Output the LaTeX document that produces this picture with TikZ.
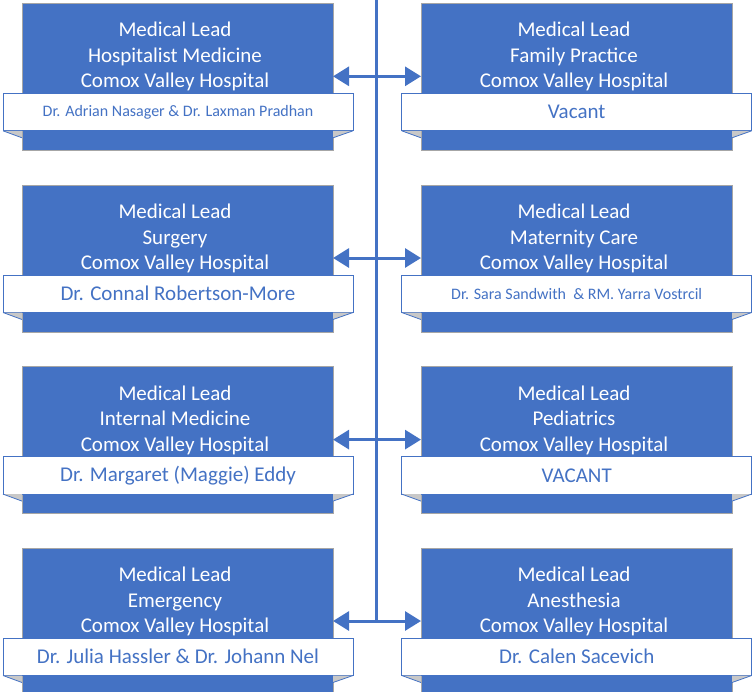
\documentclass[tikz,border=0pt]{standalone}
\usepackage{fontspec}
\setmainfont{Carlito}
\usetikzlibrary{calc,arrows.meta}
\definecolor{accent}{HTML}{4472C4}
\definecolor{foldgray}{HTML}{C8C8C8}
\definecolor{boxedge}{HTML}{A6A6A6}
\tikzset{
 bluebox/.style={draw=boxedge,line width=0.8pt,fill=accent,minimum width=311pt,minimum height=147pt,anchor=north west,inner sep=0pt,outer sep=0pt},
 titletext/.style={text=white,font=\fontsize{21}{25.5}\selectfont,align=center,inner sep=0pt},
 namebox/.style={draw=accent,line width=0.8pt,fill=white,minimum width=350pt,minimum height=37.5pt,anchor=north west,inner sep=0pt,outer sep=0pt,text=accent},
 foldfill/.style={fill=foldgray},
 foldline/.style={draw=accent,line width=0.8pt},
 spine/.style={draw=accent,line width=3pt},
 link/.style={draw=accent,line width=3pt,{Triangle[length=16pt,width=19pt]}-{Triangle[length=16pt,width=19pt]}},
}
\newcommand\leadrow[7]{%
 \node[bluebox] (#1) at (#2,#4) {};
 \node[namebox,font=\fontsize{#6}{#6}\selectfont] (#1n) at (#3,#4+90) {#7};
 \node[titletext] (#1t) at ($(#1.north)+(-2.5,53.5)$) {#5};
 \path[foldfill] (#1n.south west) -- (#1n.south west -| #1.west) -- ($(#1n.south west -| #1.west)+(0,7)$) -- cycle;
 \path[foldline] (#1n.south west) -- ($(#1n.south west -| #1.west)+(0,7)$);
 \path[foldfill] (#1n.south east) -- (#1n.south east -| #1.east) -- ($(#1n.south east -| #1.east)+(0,7)$) -- cycle;
 \path[foldline] (#1n.south east) -- ($(#1n.south east -| #1.east)+(0,7)$);
}
\begin{document}
\begin{tikzpicture}[x=1pt,y=-1pt]
\useasboundingbox (0,0) rectangle (752,691);
\leadrow{L1}{22}{3}{3.3}{Medical Lead\\Hospitalist Medicine\\Comox Valley Hospital}{16}{Dr. Adrian Nasager \& Dr. Laxman Pradhan}
\leadrow{R1}{421}{401.7}{3.3}{Medical Lead\\Family Practice\\Comox Valley Hospital}{21}{Vacant}
\leadrow{L2}{22}{3}{185}{Medical Lead\\Surgery\\Comox Valley Hospital}{21}{Dr. Connal Robertson-More}
\leadrow{R2}{421}{401.7}{185}{Medical Lead\\Maternity Care\\Comox Valley Hospital}{16}{Dr. Sara Sandwith\ \ \& RM. Yarra Vostrcil}
\leadrow{L3}{22}{3}{366.6}{Medical Lead\\Internal Medicine\\Comox Valley Hospital}{21}{Dr. Margaret (Maggie) Eddy}
\leadrow{R3}{421}{401.7}{366.6}{Medical Lead\\Pediatrics\\Comox Valley Hospital}{21}{VACANT}
\leadrow{L4}{22}{3}{548}{Medical Lead\\Emergency\\Comox Valley Hospital}{21}{Dr. Julia Hassler \& Dr. Johann Nel}
\leadrow{R4}{421}{401.7}{548}{Medical Lead\\Anesthesia\\Comox Valley Hospital}{21}{Dr. Calen Sacevich}
\coordinate (spinetop) at (376,0);
\coordinate (spinebot) at (376,621);
\draw[spine] (spinetop) -- (spinebot);
\foreach \r in {1,2,3,4}{
 \draw[link] ($(L\r.north east)+(0,73)$) -- ($(R\r.north west)+(0,73)$);
}
\end{tikzpicture}
\end{document}
